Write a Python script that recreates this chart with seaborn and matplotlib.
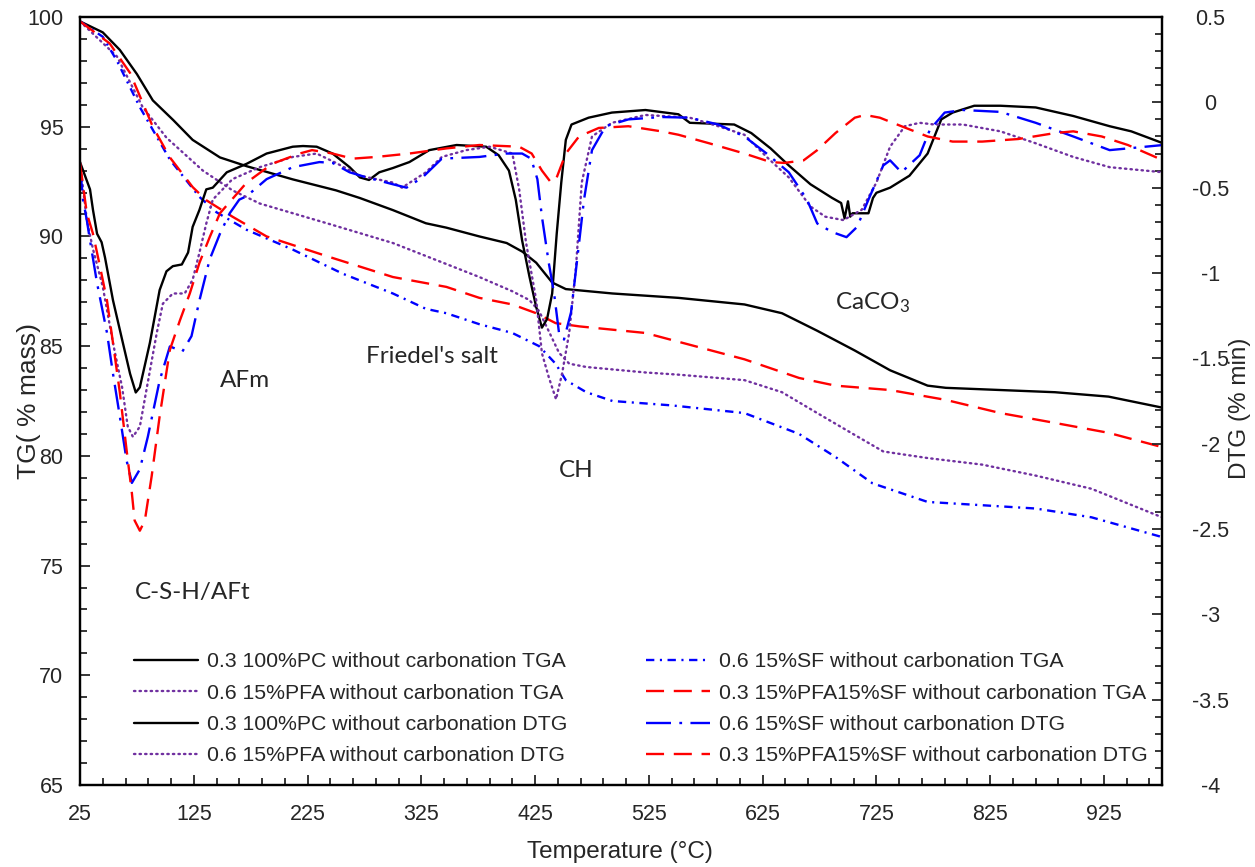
import numpy as np
import pandas as pd
import matplotlib
matplotlib.use("Agg")
import matplotlib.pyplot as plt
from matplotlib.ticker import MultipleLocator, FixedLocator
import seaborn as sns

# ---------------- data ----------------
pc_tga_T = [25, 45, 60, 75, 89, 107, 124, 148, 171.5, 212, 250, 271, 300, 329, 347, 376, 400, 414, 426, 440, 452,
            493, 551, 609, 642, 673, 706, 737, 770, 786, 834, 882, 929, 976]
pc_tga = [99.8, 99.3, 98.5, 97.4, 96.2, 95.3, 94.4, 93.6, 93.2, 92.6, 92.1, 91.75, 91.2, 90.6, 90.4, 90.0, 89.7, 89.3,
          88.8, 87.9, 87.6, 87.4, 87.2, 86.9, 86.5, 85.7, 84.8, 83.9, 83.2, 83.1, 83.0, 82.9, 82.7, 82.2]

pfa_tga_T = [25, 57.5, 80, 101, 133, 159, 183, 242, 300, 376, 405, 420, 428.5, 435, 446, 455, 470, 522, 551, 609, 642,
             673, 706, 731, 770, 818, 865, 914, 976]
pfa_tga = [99.8, 98.2, 95.9, 94.5, 93.0, 92.1, 91.5, 90.6, 89.7, 88.15, 87.5, 87.1, 86.6, 85.9, 84.7, 84.2, 84.05, 83.8,
           83.7, 83.45, 82.9, 81.95, 80.95, 80.2, 79.9, 79.6, 79.1, 78.5, 77.2]

sf_tga_T = [25, 45, 57.5, 77.5, 104, 130, 145, 171.5, 212, 256, 300, 329, 347, 376, 405, 428.5, 443, 452, 470, 493,
            545, 609, 657, 689, 721.5, 770, 818, 865, 914, 976]
sf_tga = [99.8, 99.1, 98.0, 95.9, 93.5, 91.8, 91.1, 90.3, 89.4, 88.3, 87.4, 86.7, 86.5, 86.0, 85.6, 85.0, 84.2, 83.45,
          82.9, 82.5, 82.3, 81.95, 81.0, 79.95, 78.75, 77.9, 77.75, 77.6, 77.2, 76.3]

pfasf_tga_T = [25, 51, 69, 89, 104, 124, 136, 159, 189, 242, 300, 347, 376, 405, 426, 443, 464, 522, 551, 609, 657,
               689, 737, 786, 834, 882, 929, 976]
pfasf_tga = [99.8, 98.8, 97.45, 95.0, 93.6, 92.25, 91.65, 90.9, 90.0, 89.1, 88.15, 87.7, 87.2, 86.9, 86.5, 86.05, 85.9,
             85.6, 85.2, 84.4, 83.55, 83.2, 83.0, 82.55, 81.95, 81.5, 81.05, 80.4]

pc_dtg_T = [25, 33.8, 36.4, 40, 44, 47, 54, 62.7, 69, 74, 77.6, 86.4, 95, 101, 106.6, 114.5, 120, 124, 130, 136,
            141.7, 154, 171.5, 189, 212, 221, 233, 247, 262, 271, 279, 288, 300, 314.5, 332, 356, 382, 393, 402, 408,
            413.6, 420, 426, 431, 435.5, 440, 444, 448, 452, 457, 472, 492.5, 522, 551, 561, 600, 615, 632, 648, 667,
            686, 694, 697, 700, 702, 704, 718, 722, 725, 737, 754, 770, 782, 792, 811, 834, 865, 898, 930, 949, 977]
pc_dtg = [-0.35, -0.51, -0.63, -0.77, -0.82, -0.91, -1.16, -1.41, -1.59, -1.70, -1.67, -1.41, -1.10, -0.99, -0.96,
          -0.95, -0.88, -0.73, -0.63, -0.51, -0.50, -0.41, -0.36, -0.30, -0.26, -0.256, -0.26, -0.30, -0.38, -0.44,
          -0.455, -0.41, -0.385, -0.35, -0.28, -0.25, -0.26, -0.31, -0.40, -0.57, -0.81, -1.02, -1.20, -1.32, -1.27,
          -1.12, -0.77, -0.47, -0.22, -0.13, -0.09, -0.06, -0.045, -0.07, -0.12, -0.13, -0.18, -0.27, -0.37, -0.48,
          -0.56, -0.59, -0.68, -0.58, -0.67, -0.65, -0.65, -0.56, -0.53, -0.50, -0.43, -0.30, -0.10, -0.06, -0.02,
          -0.02, -0.03, -0.08, -0.14, -0.17, -0.24]

pfa_dtg_T = [25, 31, 36.4, 45, 54, 62, 67, 71.5, 77.6, 83.8, 92.5, 97.8, 106.6, 117, 124, 130, 136, 141.7, 159, 183,
             212, 233, 250, 271, 300, 308, 329, 343, 364.5, 385, 405, 411, 417, 426, 431, 437, 443.4, 448.7, 455, 461,
             466, 475, 492.5, 522, 561, 586, 609, 628.5, 648, 667, 680, 696, 712, 725, 737, 750, 763, 776, 801, 834,
             865, 898, 930, 977]
pfa_dtg = [-0.355, -0.69, -0.86, -1.08, -1.41, -1.67, -1.90, -1.96, -1.90, -1.67, -1.35, -1.18, -1.12, -1.12, -1.04,
           -0.88, -0.71, -0.57, -0.45, -0.38, -0.32, -0.30, -0.355, -0.43, -0.47, -0.50, -0.41, -0.32, -0.28, -0.26,
           -0.30, -0.51, -0.82, -1.16, -1.47, -1.61, -1.74, -1.59, -1.35, -0.96, -0.47, -0.20, -0.12, -0.074, -0.09,
           -0.14, -0.19, -0.32, -0.44, -0.61, -0.67, -0.69, -0.63, -0.47, -0.26, -0.14, -0.12, -0.13, -0.13, -0.17,
           -0.24, -0.32, -0.38, -0.41]

sf_dtg_T = [25, 27.6, 31, 33.8, 40, 48.7, 54, 60, 66, 70.6, 77.6, 84.6, 95, 104, 115, 123, 130, 139, 148, 156.6, 165,
            171.5, 189, 212, 235.5, 247, 262, 277, 300, 312, 326, 343, 376, 399.6, 413.6, 421.5, 427, 431, 437, 441.7,
            446, 450.4, 456.6, 462, 468, 475, 487, 507, 536, 561, 586, 609, 628.5, 648, 664, 673, 686, 698.7, 708, 718,
            731, 737, 747, 763, 772, 785, 801, 834, 865, 898, 930, 946, 977]
sf_dtg = [-0.37, -0.57, -0.69, -0.81, -1.06, -1.35, -1.59, -1.84, -2.10, -2.23, -2.15, -1.96, -1.63, -1.43, -1.46,
          -1.37, -1.16, -0.92, -0.77, -0.65, -0.57, -0.55, -0.45, -0.38, -0.35, -0.355, -0.41, -0.44, -0.48, -0.50,
          -0.44, -0.33, -0.32, -0.30, -0.30, -0.33, -0.45, -0.67, -0.94, -1.12, -1.35, -1.39, -1.23, -0.92, -0.57,
          -0.28, -0.14, -0.10, -0.086, -0.09, -0.13, -0.20, -0.30, -0.41, -0.57, -0.71, -0.76, -0.79, -0.73, -0.57,
          -0.37, -0.34, -0.41, -0.31, -0.16, -0.06, -0.045, -0.056, -0.12, -0.20, -0.28, -0.27, -0.25]

pfasf_dtg_T = [25, 31, 36.4, 42.5, 48.7, 54, 60, 66, 70.6, 73, 77.6, 82, 88, 95, 104, 112.7, 121.5, 130, 139, 148,
               171.5, 194, 218, 229, 247, 264.5, 285.5, 314.5, 347, 376, 411, 422, 431, 439, 444, 452, 463.6, 481, 507,
               536, 551, 578, 609, 632, 644, 661, 673, 689, 706, 715, 728, 747, 770, 792, 818, 849.6, 882, 898, 923,
               946, 977]
pfasf_dtg = [-0.355, -0.65, -0.77, -0.96, -1.16, -1.41, -1.70, -2.04, -2.29, -2.45, -2.51, -2.45, -2.19, -1.84, -1.45,
             -1.28, -1.12, -0.94, -0.79, -0.65, -0.47, -0.36, -0.30, -0.28, -0.30, -0.33, -0.32, -0.30, -0.27, -0.25,
             -0.26, -0.30, -0.40, -0.47, -0.44, -0.30, -0.20, -0.15, -0.14, -0.17, -0.19, -0.24, -0.30, -0.35, -0.355,
             -0.34, -0.28, -0.18, -0.09, -0.074, -0.09, -0.14, -0.20, -0.23, -0.23, -0.215, -0.18, -0.17, -0.20, -0.25,
             -0.34]

labels_tga = ["0.3 100%PC without carbonation TGA", "0.6 15%PFA without carbonation TGA",
              "0.6 15%SF without carbonation TGA", "0.3 15%PFA15%SF without carbonation TGA"]
labels_dtg = ["0.3 100%PC without carbonation DTG", "0.6 15%PFA without carbonation DTG",
              "0.6 15%SF without carbonation DTG", "0.3 15%PFA15%SF without carbonation DTG"]

annotations = ["AFm", "Friedel's salt", "CH", "CaCO$_3$", "C-S-H/AFt"]
annot_T = [169.7, 334.6, 461, 721.5, 124]
annot_TG = [83.45, 84.55, 79.35, 87.0, 73.75]

x_major = [25, 125, 225, 325, 425, 525, 625, 725, 825, 925]

# ---------------- style ----------------
sns.set_theme(style="ticks")
plt.rcParams["font.family"] = ["Liberation Sans", "DejaVu Sans"]
plt.rcParams["axes.unicode_minus"] = False
plt.rcParams["lines.scale_dashes"] = False
plt.rcParams["mathtext.default"] = "regular"

BLACK, PURPLE, BLUE, RED = "#000000", "#7030A0", "#0000FF", "#FF0000"
LW = 1.7
dot_ls = (0, (1.0, 3.0))
tga_dashdot = (0, (6, 4, 1.5, 4))
dtg_dashdot = (0, (18, 6, 2, 6))
red_dash = (0, (13, 7))

fig = plt.figure(figsize=(12.55, 8.67), dpi=100)
ax = fig.add_axes([80 / 1255, 1 - 785 / 867, (1162 - 80) / 1255, (785 - 17) / 867])
ax2 = ax.twinx()

def draw(axis, T, vals, color, ls, label):
    df = pd.DataFrame({"T": T, "v": vals})
    sns.lineplot(data=df, x="T", y="v", ax=axis, color=color, linestyle=ls, linewidth=LW,
                 label=label, errorbar=None, sort=False, legend=False,
                 dash_capstyle="round" if ls == dot_ls else "butt")
    return axis.get_lines()[-1]

h = {}
h[0] = draw(ax, pc_tga_T, pc_tga, BLACK, "-", labels_tga[0])
h[1] = draw(ax, pfa_tga_T, pfa_tga, PURPLE, dot_ls, labels_tga[1])
h[4] = draw(ax, sf_tga_T, sf_tga, BLUE, tga_dashdot, labels_tga[2])
h[5] = draw(ax, pfasf_tga_T, pfasf_tga, RED, red_dash, labels_tga[3])
h[2] = draw(ax2, pc_dtg_T, pc_dtg, BLACK, "-", labels_dtg[0])
h[3] = draw(ax2, pfa_dtg_T, pfa_dtg, PURPLE, dot_ls, labels_dtg[1])
h[6] = draw(ax2, sf_dtg_T, sf_dtg, BLUE, dtg_dashdot, labels_dtg[2])
h[7] = draw(ax2, pfasf_dtg_T, pfasf_dtg, RED, red_dash, labels_dtg[3])

# axes limits & ticks
ax.set_xlim(25, 976)
ax.set_ylim(65, 100)
ax2.set_ylim(-4, 0.5)
ax.xaxis.set_major_locator(FixedLocator(x_major))
ax.xaxis.set_minor_locator(MultipleLocator(20, offset=5))
ax.yaxis.set_major_locator(MultipleLocator(5))
ax.yaxis.set_minor_locator(MultipleLocator(1))
ax2.yaxis.set_major_locator(MultipleLocator(0.5))
ax2.yaxis.set_minor_locator(MultipleLocator(0.1))
ax2.set_yticks(np.arange(-4, 0.51, 0.5))
ax2.set_yticklabels(["-4", "-3.5", "-3", "-2.5", "-2", "-1.5", "-1", "-0.5", "0", "0.5"])

TICKFS = 15.5
ax.tick_params(axis="x", which="both", direction="in", top=False, labelsize=TICKFS, pad=14)
ax.tick_params(axis="x", which="major", length=7, width=1.3)
ax.tick_params(axis="x", which="minor", length=5, width=1.3)
ax.tick_params(axis="y", which="both", direction="in", right=False, labelsize=TICKFS, pad=12)
ax.tick_params(axis="y", which="major", length=7, width=1.3)
ax.tick_params(axis="y", which="minor", length=5, width=1.3)
ax2.tick_params(axis="y", which="both", direction="in", labelsize=TICKFS, pad=35)
ax2.tick_params(axis="y", which="major", length=7, width=1.3)
ax2.tick_params(axis="y", which="minor", length=5, width=1.3)
for lab in ax2.get_yticklabels():
    lab.set_horizontalalignment("center")

for a in (ax, ax2):
    for s in a.spines.values():
        s.set_linewidth(1.6)
        s.set_color("black")
ax2.spines["top"].set_visible(True)

ax.set_xlabel("Temperature (°C)", fontsize=17.5)
ax.set_ylabel("TG( % mass)", fontsize=19)
ax2.set_ylabel("DTG (% min)", fontsize=17.5, rotation=90)
ax.xaxis.set_label_coords(0.499, -0.073)
ax.yaxis.set_label_coords(-0.036, 0.5)
ax2.yaxis.set_label_coords(1.062, 0.49)

for txt, tx, ty in zip(annotations, annot_T, annot_TG):
    ax.text(tx, ty, txt, ha="center", va="center", fontsize=17.5, family=["Lato", "DejaVu Sans"])

order = [h[i] for i in range(8)]
leg = ax2.legend(handles=order, labels=[l.get_label() for l in order], ncol=2, frameon=False,
                 loc="lower left", bbox_to_anchor=(0.038, 0.009), fontsize=15.3,
                 handlelength=3.0, handletextpad=0.45, columnspacing=3.7, labelspacing=0.58,
                 borderaxespad=0.2)

fig.savefig("out.png", dpi=100)
